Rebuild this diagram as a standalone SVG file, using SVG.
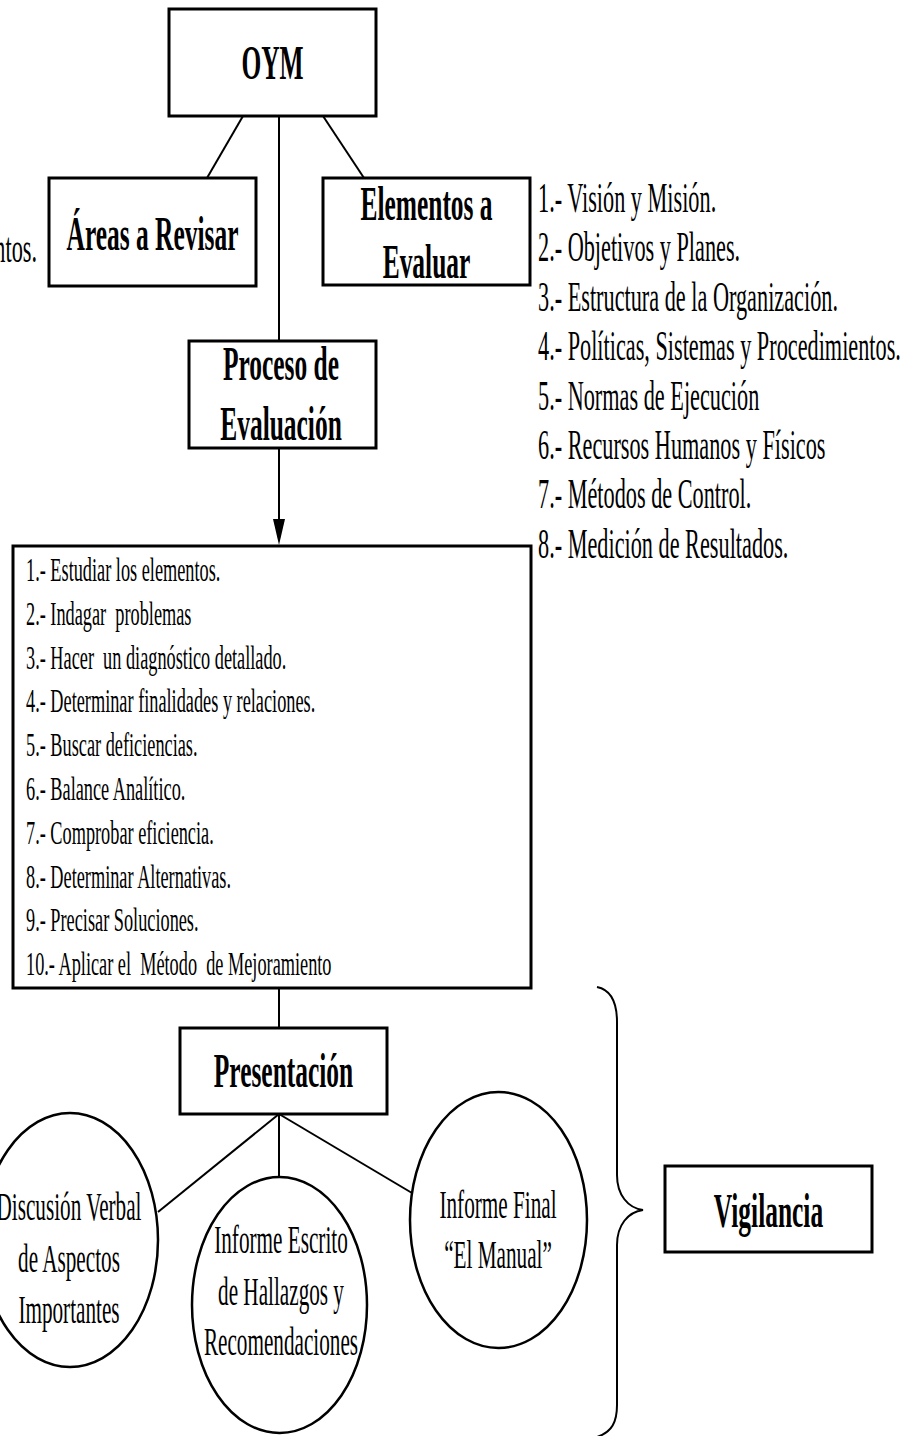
<svg xmlns="http://www.w3.org/2000/svg" width="909" height="1436" viewBox="0 0 909 1436">
  <style>
    .box { fill: #fff; stroke: #000; stroke-width: 3; }
    .oval { fill: #fff; stroke: #000; stroke-width: 2.5; }
    .link { fill: none; stroke: #000; stroke-width: 2; }
    .head { font-family: "Liberation Serif", "Times New Roman", serif; font-weight: bold; font-size: 48px; fill: #000; text-anchor: middle; }
    .item { font-family: "Liberation Serif", "Times New Roman", serif; font-size: 42px; fill: #000; }
    .step { font-family: "Liberation Serif", "Times New Roman", serif; font-size: 34.5px; fill: #000; white-space: pre; }
    .oval-text { font-family: "Liberation Serif", "Times New Roman", serif; font-size: 40px; fill: #000; text-anchor: middle; }
  </style>
  <rect width="909" height="1436" fill="#fff"/>

  <!-- connectors -->
  <g id="connectors">
    <line class="link" x1="243" y1="116" x2="207" y2="178"/>
    <line class="link" x1="323" y1="116" x2="364" y2="178"/>
    <line class="link" x1="279" y1="116" x2="279" y2="341"/>
    <line class="link" x1="279" y1="448" x2="279" y2="519"/>
    <path d="M273,519 L285,519 L279,545 Z" fill="#000"/>
    <line class="link" x1="279" y1="988" x2="279" y2="1028"/>
    <line class="link" x1="279" y1="1114" x2="158" y2="1212"/>
    <line class="link" x1="279" y1="1114" x2="279" y2="1177"/>
    <line class="link" x1="279" y1="1114" x2="412" y2="1193"/>
    <path class="link" d="M597,987 C612,990 617,1005 617,1022 L617,1175 C617,1195 628,1208 643,1210 C628,1212 617,1225 617,1245 L617,1405 C617,1422 612,1432 597,1437"/>
  </g>

  <!-- partially visible list entry at the left edge -->
  <g id="left-fragment">
    <text class="item" text-anchor="end" transform="translate(37,262) scale(0.53,1)">ntos.</text>
  </g>

  <g id="oym">
    <rect class="box" x="169" y="9" width="207" height="107"/>
    <text class="head" transform="translate(272.5,79) scale(0.53,1)">OYM</text>
  </g>

  <g id="areas">
    <rect class="box" x="49" y="178" width="207" height="108"/>
    <text class="head" transform="translate(152.5,250) scale(0.53,1)">Áreas a Revisar</text>
  </g>

  <g id="elementos">
    <rect class="box" x="323" y="178" width="207" height="107"/>
    <text class="head" transform="translate(426.5,220) scale(0.53,1)">Elementos a</text>
    <text class="head" transform="translate(426.5,278) scale(0.53,1)">Evaluar</text>
  </g>

  <g id="elementos-list" transform="translate(538,0) scale(0.53,1)">
    <text class="item" x="0" y="212">1.- Visión y Misión.</text>
    <text class="item" x="0" y="261.4">2.- Objetivos y Planes.</text>
    <text class="item" x="0" y="310.8">3.- Estructura de la Organización.</text>
    <text class="item" x="0" y="360.2">4.- Políticas, Sistemas y Procedimientos.</text>
    <text class="item" x="0" y="409.6">5.- Normas de Ejecución</text>
    <text class="item" x="0" y="459">6.- Recursos Humanos y Físicos</text>
    <text class="item" x="0" y="508.4">7.- Métodos de Control.</text>
    <text class="item" x="0" y="557.8">8.- Medición de Resultados.</text>
  </g>

  <g id="proceso">
    <rect class="box" x="189" y="341" width="187" height="107"/>
    <text class="head" transform="translate(281,380) scale(0.53,1)">Proceso de</text>
    <text class="head" transform="translate(281,440) scale(0.53,1)">Evaluación</text>
  </g>

  <g id="pasos">
    <rect class="box" x="13" y="546" width="518" height="442"/>
    <g transform="translate(26,0) scale(0.53,1)">
      <text class="step" x="0" y="581">1.- Estudiar los elementos.</text>
      <text class="step" x="0" y="624.8">2.- Indagar  problemas</text>
      <text class="step" x="0" y="668.6">3.- Hacer  un diagnóstico detallado.</text>
      <text class="step" x="0" y="712.4">4.- Determinar finalidades y relaciones.</text>
      <text class="step" x="0" y="756.2">5.- Buscar deficiencias.</text>
      <text class="step" x="0" y="800">6.- Balance Analítico.</text>
      <text class="step" x="0" y="843.8">7.- Comprobar eficiencia.</text>
      <text class="step" x="0" y="887.6">8.- Determinar Alternativas.</text>
      <text class="step" x="0" y="931.4">9.- Precisar Soluciones.</text>
      <text class="step" x="0" y="975.2">10.- Aplicar el  Método  de Mejoramiento</text>
    </g>
  </g>

  <g id="presentacion">
    <rect class="box" x="180" y="1028" width="207" height="86"/>
    <text class="head" transform="translate(283.5,1087) scale(0.53,1)">Presentación</text>
  </g>

  <g id="discusion">
    <ellipse class="oval" cx="70" cy="1240" rx="88" ry="127"/>
    <text class="oval-text" transform="translate(69,1220) scale(0.53,1)">Discusión Verbal</text>
    <text class="oval-text" transform="translate(69,1272) scale(0.53,1)">de Aspectos</text>
    <text class="oval-text" transform="translate(69,1323) scale(0.53,1)">Importantes</text>
  </g>

  <g id="informe-escrito">
    <ellipse class="oval" cx="279.5" cy="1305" rx="87.5" ry="128"/>
    <text class="oval-text" transform="translate(281,1253) scale(0.53,1)">Informe Escrito</text>
    <text class="oval-text" transform="translate(281,1305) scale(0.53,1)">de Hallazgos y</text>
    <text class="oval-text" transform="translate(281,1355) scale(0.53,1)">Recomendaciones</text>
  </g>

  <g id="informe-final">
    <ellipse class="oval" cx="498.5" cy="1220" rx="88.5" ry="128"/>
    <text class="oval-text" transform="translate(498,1218) scale(0.53,1)">Informe Final</text>
    <text class="oval-text" transform="translate(498,1268) scale(0.53,1)">“El Manual”</text>
  </g>

  <g id="vigilancia">
    <rect class="box" x="665" y="1166" width="207" height="86"/>
    <text class="head" transform="translate(768.5,1227) scale(0.53,1)">Vigilancia</text>
  </g>
</svg>
